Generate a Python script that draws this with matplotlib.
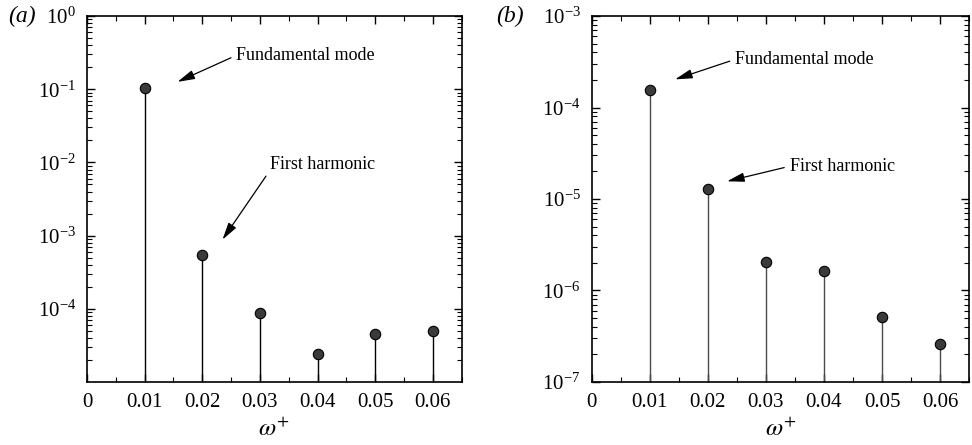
import matplotlib
matplotlib.use('Agg')
import matplotlib.pyplot as plt
import matplotlib.ticker as ticker

plt.rcParams['font.family'] = ['Liberation Serif', 'DejaVu Serif']
plt.rcParams['mathtext.fontset'] = 'stix'

# data
omega = [0.01, 0.02, 0.03, 0.04, 0.05, 0.06]
amp_a = [1.05e-1, 5.5e-4, 8.7e-5, 2.45e-5, 4.55e-5, 5.0e-5]
amp_b = [1.57e-4, 1.3e-5, 2.05e-6, 1.65e-6, 5.1e-7, 2.6e-7]
xticks = [0, 0.01, 0.02, 0.03, 0.04, 0.05, 0.06]
xticklabels = ['0', '0.01', '0.02', '0.03', '0.04', '0.05', '0.06']

fig = plt.figure(figsize=(9.72, 4.45), dpi=100)
ax_a = fig.add_axes([0.0895, 0.1416, 0.3855, 0.8224])
ax_b = fig.add_axes([0.6088, 0.1416, 0.3882, 0.8224])


def style(ax, ylim, yticks):
    ax.set_yscale('log')
    ax.set_xlim(0, 0.065)
    ax.set_ylim(*ylim)
    ax.set_xticks(xticks)
    ax.set_xticklabels(xticklabels)
    ax.xaxis.set_minor_locator(ticker.MultipleLocator(0.005))
    ax.set_yticks(yticks)
    ax.yaxis.set_major_formatter(ticker.LogFormatterSciNotation())
    ax.yaxis.set_minor_locator(ticker.LogLocator(base=10, subs=range(2, 10), numticks=20))
    ax.yaxis.set_minor_formatter(ticker.NullFormatter())
    ax.tick_params(which='both', direction='in', top=True, right=True, labelsize=15)
    ax.tick_params(axis='x', pad=8)
    ax.tick_params(axis='y', pad=8)
    ax.tick_params(which='major', length=6, width=1)
    ax.tick_params(which='minor', length=3.5, width=0.8)
    for s in ax.spines.values():
        s.set_linewidth(1.2)
    ax.set_xlabel(r'$\omega^{+}$', fontsize=18, labelpad=4)


def stems(ax, x, y, bottom, color):
    ax.vlines(x, bottom, y, colors=color, linewidth=1.0)
    ax.plot(x, y, 'o', markersize=7.5, markerfacecolor='#3a3a3a',
            markeredgecolor='black', markeredgewidth=0.8, clip_on=False)


arrow = dict(arrowstyle='-|>,head_length=0.75,head_width=0.2', color='black', lw=0.9,
             mutation_scale=14, shrinkA=2, shrinkB=0, relpos=(0, 0.5))

# panel (a)
style(ax_a, (1e-5, 1), [1e-4, 1e-3, 1e-2, 1e-1, 1])
stems(ax_a, omega, amp_a, 1e-5, 'black')
ax_a.annotate('Fundamental mode', xy=(0.0157, 1.26e-1), xytext=(0.0259, 2.9e-1),
              fontsize=13, ha='left', va='center', arrowprops=arrow)
ax_a.annotate('First harmonic', xy=(0.0235, 8.8e-4), xytext=(0.0318, 9.3e-3),
              fontsize=13, ha='left', va='center',
              arrowprops=dict(arrow, relpos=(0, 0.2)))
fig.text(0.008, 0.962, '(a)', fontsize=17, style='italic', ha='left', va='center')

# panel (b)
style(ax_b, (1e-7, 1e-3), [1e-7, 1e-6, 1e-5, 1e-4, 1e-3])
stems(ax_b, omega, amp_b, 1e-7, '#4a4a4a')
ax_b.annotate('Fundamental mode', xy=(0.01435, 2.03e-4), xytext=(0.0247, 3.36e-4),
              fontsize=13, ha='left', va='center', arrowprops=arrow)
ax_b.annotate('First harmonic', xy=(0.0233, 1.56e-5), xytext=(0.0341, 2.28e-5),
              fontsize=13, ha='left', va='center', arrowprops=arrow)
fig.text(0.51, 0.962, '(b)', fontsize=17, style='italic', ha='left', va='center')

fig.savefig('out.png', dpi=100)
